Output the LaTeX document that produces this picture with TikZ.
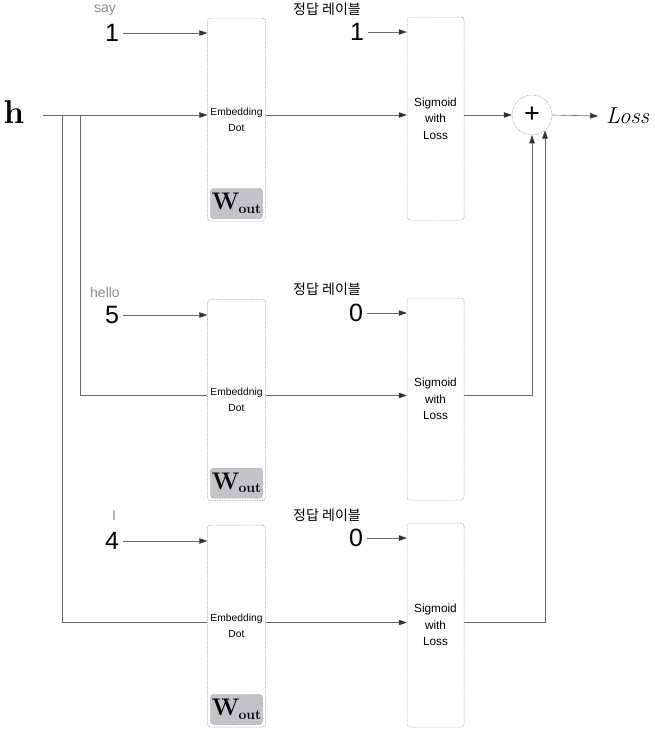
\documentclass[tikz,border=0pt]{standalone}
\usepackage{fontspec}
\newfontfamily\sansf{Liberation Sans}
\newfontfamily\krfont{Noto Sans CJK KR}
\usepackage{xcolor}
\usepackage{tikz}
\usetikzlibrary{arrows.meta,positioning}
\definecolor{wgray}{RGB}{198,194,204}
\definecolor{linegray}{RGB}{105,105,105}
\definecolor{boxgray}{RGB}{165,165,165}
\definecolor{wordgray}{RGB}{140,140,140}

\begin{document}
\begin{tikzpicture}[x=1pt, y=-1pt,
  blk/.style={draw=boxgray, dash pattern=on 1.5pt off 1pt, line width=0.5pt,
    rounded corners=3pt, minimum width=58pt, align=center, inner sep=0pt},
  embtext/.style={font=\sansf\fontsize{10.3}{16}\selectfont},
  sigtext/.style={font=\sansf\fontsize{11.8}{16.5}\selectfont},
  wbox/.style={fill=wgray, draw=boxgray, dash pattern=on 1.5pt off 1pt, line width=0.5pt,
    rounded corners=3pt, minimum width=52pt, minimum height=30pt, inner sep=0pt},
  num/.style={font=\sansf\fontsize{25}{25}\selectfont, inner xsep=4pt, inner ysep=0pt},
  word/.style={font=\sansf\fontsize{14}{14}\selectfont, text=wordgray},
  kr/.style={font=\krfont\fontsize{14}{14}\selectfont},
  line/.style={draw=linegray, line width=0.6pt},
  arr/.style={line, -{Triangle[length=8pt,width=5.5pt,color=black!80]}}]
  \useasboundingbox (0,0) rectangle (654,731);

  % rows
  \coordinate (r1) at (0,115);
  \coordinate (r2) at (0,395.5);
  \coordinate (r3) at (0,622.5);

  % Embedding Dot
  \node[blk, embtext, minimum height=203pt] (emb1) at (236.5,119.5) {Embedding\\Dot};
  \node[blk, embtext, minimum height=201pt] (emb2) at (236.5,400) {Embeddnig\\Dot};
  \node[blk, embtext, minimum height=202pt] (emb3) at (236.5,626) {Embedding\\Dot};
  \foreach \i in {1,2,3}
    \node[wbox, above=2.5pt of emb\i.south] (w\i)
      {\rmfamily\bfseries\fontsize{24}{24}\selectfont W\kern-1pt\raisebox{-3.5pt}{\fontsize{14}{14}\selectfont out}};

  % Sigmoid with Loss
  \node[blk, sigtext, minimum height=203pt, minimum width=57pt] (sig1) at (435.5,118.5) {Sigmoid\\with\\Loss};
  \node[blk, sigtext, minimum height=202pt, minimum width=57pt] (sig2) at (435.5,399) {Sigmoid\\with\\Loss};
  \node[blk, sigtext, minimum height=204pt, minimum width=57pt] (sig3) at (435.5,625) {Sigmoid\\with\\Loss};

  % Sum
  \node[circle, draw=boxgray, dash pattern=on 1.5pt off 1pt, line width=0.5pt,
    minimum size=40pt, inner sep=0pt, font=\sansf\fontsize{27}{27}\selectfont] (plus) at (532,115) {+};
  \node[anchor=west, inner xsep=8pt, inner ysep=0pt,
    font=\rmfamily\itshape\fontsize{23}{23}\selectfont] (loss) at (598,116) {Loss};

  % inputs
  \node[word] (say) at (105,10) {say};
  \node[num] (n1) at (112,33) {1};
  \node[word] (hello) at (105,292) {hello};
  \node[num] (n2) at (112,315) {5};
  \node[word] (wi) at (114,516) {I};
  \node[num] (n3) at (112,541) {4};
  \draw[arr] (n1.east) -- (emb1.west |- n1);
  \draw[arr] (n2.east) -- (emb2.west |- n2);
  \draw[arr] (n3.east) -- (emb3.west |- n3);

  % labels
  \node[kr] (k1) at (327,9) {정답 레이블};
  \node[num] (t1) at (357,32) {1};
  \node[kr] (k2) at (327,289) {정답 레이블};
  \node[num] (t2) at (356,313) {0};
  \node[kr] (k3) at (327,515) {정답 레이블};
  \node[num] (t3) at (356,538) {0};
  \draw[arr] (t1.east) -- (sig1.west |- t1);
  \draw[arr] (t2.east) -- (sig2.west |- t2);
  \draw[arr] (t3.east) -- (sig3.west |- t3);

  % h
  \node[font=\rmfamily\bfseries\fontsize{33}{33}\selectfont, inner sep=0pt] (h) at (14,112) {h};
  \coordinate (hin) at (43,115);
  \coordinate (ta) at (62,115);
  \coordinate (tb) at (80,115);
  \draw[arr] (hin) -- (emb1.west |- r1);
  \draw[line] (tb) |- (emb2.west |- r2);
  \draw[line] (ta) |- (emb3.west |- r3);

  % Embedding -> Sigmoid
  \draw[arr] (emb1.east |- r1) -- (sig1.west |- r1);
  \draw[arr] (emb2.east |- r2) -- (sig2.west |- r2);
  \draw[arr] (emb3.east |- r3) -- (sig3.west |- r3);

  % Sigmoid -> sum
  \draw[arr] (sig1.east |- r1) -- (plus.west);
  \draw[arr] (sig2.east |- r2) -| (plus.south);
  \draw[arr] (sig3.east |- r3) -| (plus.-50);
  \draw[arr] (plus.east) -- (loss.west);
\end{tikzpicture}
\end{document}
